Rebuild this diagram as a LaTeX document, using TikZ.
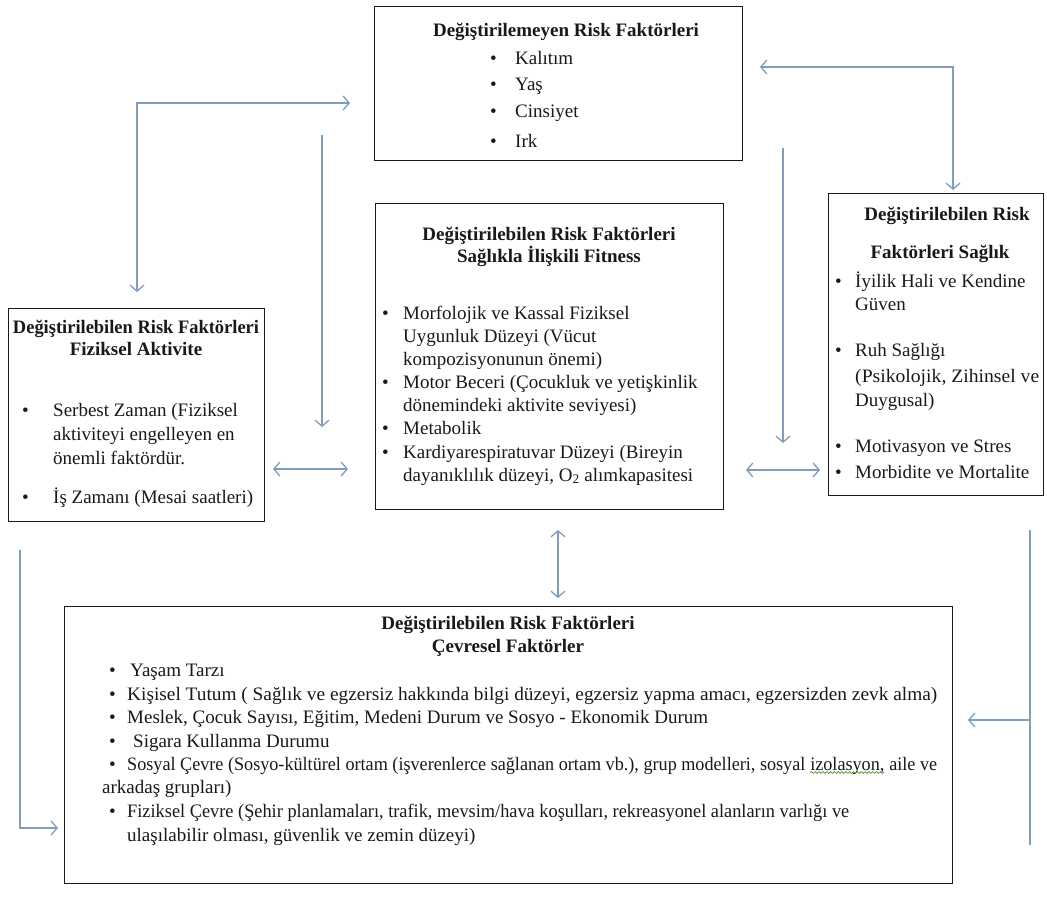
\documentclass[tikz,border=0pt]{standalone}
\usepackage{fontspec}
\setmainfont{Liberation Serif}
\usetikzlibrary{arrows.meta,calc,decorations.pathmorphing}
\definecolor{arr}{RGB}{128,158,188}
\definecolor{ink}{RGB}{25,25,25}
\definecolor{spell}{RGB}{90,160,60}
\tikzset{vb/.tip={Straight Barb[length=6pt,width=14pt,line width=1.3pt]}}
\newcommand\bitem[5]{\node[txt,anchor=base west] (#1b) at (#2,#4) {\textbullet}; \node[txt,anchor=base west] (#1) at (#3,#4) {#5};}
\newcommand\tline[4]{\node[txt,anchor=base west] (#1) at (#2,#3) {#4};}
\newcommand\ttline[4]{\node[ttl] (#1) at (#2,#3) {#4};}
\newcommand\fitw[2]{\resizebox{#1pt}{\height}{#2}}
\newcommand\squig[1]{\tikz[baseline=(w.base),x=1pt,y=1pt]{\node[inner sep=0pt,outer sep=0pt] (w) {#1};
  \draw[spell,line width=0.8pt,decorate,decoration={snake,amplitude=0.9pt,segment length=4pt}] ([yshift=-2.5pt]w.base west) -- ([yshift=-2.5pt]w.base east);}}
\begin{document}
\begin{tikzpicture}[x=1pt,y=-1pt,
  box/.style={draw=ink, line width=1.4pt, inner sep=0pt, anchor=north west},
  txt/.style={inner sep=0pt, font=\fontsize{19}{23}\selectfont, text=ink},
  ttl/.style={inner sep=0pt, font=\fontsize{19}{23}\selectfont\bfseries, text=ink, anchor=base},
  conn/.style={draw=arr, line width=1.3pt}]
\useasboundingbox[fill=white] (0,0) rectangle (1047,902);
% boxes
\node[box, minimum width=368pt, minimum height=154pt] (T) at (374,6) {};
\node[box, minimum width=348pt, minimum height=306pt] (M) at (375,203) {};
\node[box, minimum width=256pt, minimum height=213pt] (L) at (8,308) {};
\node[box, minimum width=215pt, minimum height=302pt] (R) at (828,193) {};
\node[box, minimum width=888pt, minimum height=277pt] (B) at (64,606) {};
% top box
\ttline{t0}{566}{36}{Değiştirilemeyen Risk Faktörleri}
\bitem{t1}{490}{515}{64}{Kalıtım}
\bitem{t2}{490}{515}{90}{Yaş}
\bitem{t3}{490}{515}{117}{Cinsiyet}
\bitem{t4}{490}{515}{147}{Irk}
% middle box
\ttline{m0}{549}{240}{Değiştirilebilen Risk Faktörleri}
\ttline{m00}{549}{262}{Sağlıkla İlişkili Fitness}
\bitem{m1}{382}{403}{319}{Morfolojik ve Kassal Fiziksel}
\tline{m2}{403}{342}{Uygunluk Düzeyi (Vücut}
\tline{m3}{403}{365}{kompozisyonunun önemi)}
\bitem{m4}{382}{403}{388}{Motor Beceri (Çocukluk ve yetişkinlik}
\tline{m5}{403}{411}{dönemindeki aktivite seviyesi)}
\bitem{m6}{382}{403}{434}{Metabolik}
\bitem{m7}{382}{403}{458}{Kardiyarespiratuvar Düzeyi (Bireyin}
\tline{m8}{403}{481}{dayanıklılık düzeyi, O\textsubscript{2} alımkapasitesi}
% left box
\ttline{l0}{136}{333}{\fitw{246}{Değiştirilebilen Risk Faktörleri}}
\ttline{l00}{136}{355}{Fiziksel Aktivite}
\bitem{l1}{22}{53}{416}{Serbest Zaman (Fiziksel}
\tline{l2}{53}{440}{aktiviteyi engelleyen en}
\tline{l3}{53}{464}{önemli faktördür.}
\bitem{l4}{22}{53}{503}{İş Zamanı (Mesai saatleri)}
% right box
\ttline{r0}{947}{220}{Değiştirilebilen Risk}
\ttline{r00}{940}{258}{Faktörleri Sağlık}
\bitem{r1}{835}{855}{287}{İyilik Hali ve Kendine}
\tline{r2}{855}{310}{Güven}
\bitem{r3}{835}{855}{356}{Ruh Sağlığı}
\tline{r4}{855}{382}{\fitw{184}{(Psikolojik, Zihinsel ve}}
\tline{r5}{855}{406}{Duygusal)}
\bitem{r6}{835}{855}{452}{Motivasyon ve Stres}
\bitem{r7}{835}{855}{478}{Morbidite ve Mortalite}
% bottom box
\ttline{b0}{508}{629}{Değiştirilebilen Risk Faktörleri}
\ttline{b00}{508}{652}{Çevresel Faktörler}
\bitem{b1}{109}{130}{676}{Yaşam Tarzı}
\bitem{b2}{109}{127}{700}{\fitw{810}{Kişisel Tutum ( Sağlık ve egzersiz hakkında bilgi düzeyi, egzersiz yapma amacı, egzersizden zevk alma)}}
\bitem{b3}{109}{127}{723}{Meslek, Çocuk Sayısı, Eğitim, Medeni Durum ve Sosyo - Ekonomik Durum}
\bitem{b4}{109}{133}{747}{Sigara Kullanma Durumu}
\bitem{b5}{109}{127}{770}{\fitw{810}{Sosyal Çevre (Sosyo-kültürel ortam (işverenlerce sağlanan ortam vb.), grup modelleri, sosyal \squig{izolasyon,} aile ve}}
\tline{b6}{102}{793}{arkadaş grupları)}
\bitem{b7}{109}{127}{817}{\fitw{722}{Fiziksel Çevre (Şehir planlamaları, trafik, mevsim/hava koşulları, rekreasyonel alanların varlığı ve}}
\tline{b8}{127}{841}{ulaşılabilir olması, güvenlik ve zemin düzeyi)}
% connectors
\coordinate (a1) at (350,103); \coordinate (a2) at (137,292);
\draw[conn,vb-vb] (a1) -| (a2);
\coordinate (c1) at (322,135); \coordinate (c2) at (322,427);
\draw[conn,-vb] (c1) -- (c2);
\coordinate (d1) at (273,469); \coordinate (d2) at (348,469);
\draw[conn,vb-vb] (d1) -- (d2);
\coordinate (e1) at (760,67); \coordinate (e2) at (953,190);
\draw[conn,vb-vb] (e1) -| (e2);
\coordinate (f1) at (783,148); \coordinate (f2) at (783,443);
\draw[conn,-vb] (f1) -- (f2);
\coordinate (g1) at (746,470); \coordinate (g2) at (820,470);
\draw[conn,vb-vb] (g1) -- (g2);
\coordinate (h1) at (558,530); \coordinate (h2) at (558,598);
\draw[conn,vb-vb] (h1) -- (h2);
\coordinate (i1) at (20,550); \coordinate (i2) at (58,828);
\draw[conn,-vb] (i1) |- (i2);
\coordinate (j1) at (1030,530); \coordinate (j2) at (1030,845);
\draw[conn] (j1) -- (j2);
\coordinate (k1) at (1030,720); \coordinate (k2) at (968,720);
\draw[conn,-vb] (k1) -- (k2);
\end{tikzpicture}
\end{document}
